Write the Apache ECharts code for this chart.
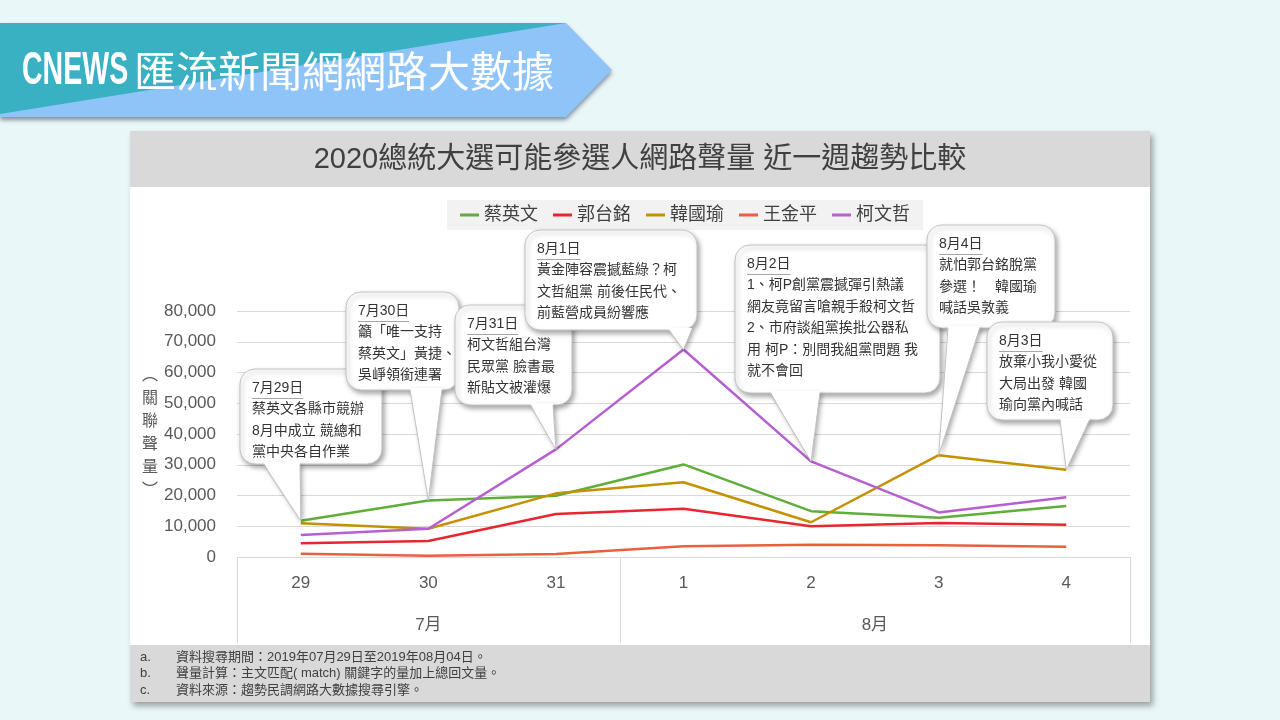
<!DOCTYPE html>
<html>
<head>
<meta charset="utf-8">
<script src="https://cdn.jsdelivr.net/npm/echarts@6/dist/echarts.min.js"></script>
<style>
html,body{margin:0;padding:0;background:#eaf7f8;}
#c{width:1280px;height:720px;}
</style>
</head>
<body>
<div id="c"></div>
<script>
// ---- data ----
const days = ['29','30','31','1','2','3','4'];
const months = ['7月','8月'];
const monthFirst = [0, 3];
const monthLast = [2, 6];
const names = ['蔡英文','郭台銘','韓國瑜','王金平','柯文哲'];
const tsai = [11800, 18400, 19900, 30100, 14900, 12800, 16600];
const kuo  = [4450, 5200, 14000, 15700, 10000, 11050, 10500];
const han  = [10950, 9200, 20700, 24300, 11300, 33100, 28400];
const wang = [1070, 420, 980, 3480, 4000, 3800, 3350];
const ko   = [7150, 9200, 35000, 67500, 31100, 14500, 19400];
const colors = ['#5fae3a','#e8262f','#c49100','#e8603c','#b65fd1'];
const yMin = 0, yMax = 80000, yStep = 10000;

const titleText = '2020總統大選可能參選人網路聲量 近一週趨勢比較';
const bannerLatin = 'CNEWS';
const bannerCJK = '匯流新聞網網路大數據';
const yName = '︵\n關\n聯\n聲\n量\n︶';
const notesTag = ['a.','b.','c.'];
const notes = [
  '資料搜尋期間：2019年07月29日至2019年08月04日。',
  '聲量計算：主文匹配( match) 關鍵字的量加上總回文量。',
  '資料來源：趨勢民調網路大數據搜尋引擎。'
];

// callouts: date, lines, which series / day index the pointer refers to
const calloutDates = ['7月29日','7月30日','7月31日','8月1日','8月2日','8月4日','8月3日'];
const calloutLines = [
  ['蔡英文各縣市競辦','8月中成立 競總和','黨中央各自作業'],
  ['籲「唯一支持','蔡英文」黃捷、','吳崢領銜連署'],
  ['柯文哲組台灣','民眾黨 臉書最','新貼文被灌爆'],
  ['黃金陣容震撼藍綠？柯','文哲組黨 前後任民代、','前藍營成員紛響應'],
  ['1、柯P創黨震撼彈引熱議','網友竟留言嗆親手殺柯文哲','2、市府談組黨挨批公器私','用 柯P：別問我組黨問題 我','就不會回'],
  ['就怕郭台銘脫黨','參選！　韓國瑜','喊話吳敦義'],
  ['放棄小我小愛從','大局出發 韓國','瑜向黨內喊話']
];
const calloutSeries = [0, 0, 4, 4, 4, 2, 2];
const calloutIndex  = [0, 1, 2, 3, 4, 5, 6];

// ---- layout (pixels) ----
const calloutBox = [
  [240,369,142,95],[346,292,113,98],[455,305,117,100],[525,230,172,100],
  [735,245,205,148],[927,225,128,103],[987,322,126,98]
];
const calloutTail = [[263,300],[410,442],[530,553],[668,692],[770,820],[948,980],[1060,1090]];

const FONT = "'Liberation Sans','Noto Sans CJK TC',sans-serif";
const seriesData = [tsai, kuo, han, wang, ko];

const chart = echarts.init(document.getElementById('c'), null, {renderer:'canvas'});

chart.setOption({
  animation: false,
  backgroundColor: '#eaf7f8',
  textStyle: {fontFamily: FONT},
  title: {
    text: titleText, left: 'center', top: 140,
    textStyle: {fontSize: 29, fontWeight: 'normal', color: '#404040', fontFamily: FONT}
  },
  legend: {
    data: names, left: 447, top: 200, padding: [6, 13],
    backgroundColor: '#f2f2f2', icon: 'rect', itemWidth: 19, itemHeight: 3, itemGap: 15,
    textStyle: {fontSize: 18, color: '#404040', fontFamily: FONT}
  },
  grid: {left: 237, right: 150, top: 311, bottom: 163, containLabel: false},
  xAxis: {
    type: 'category', data: days, boundaryGap: true,
    axisTick: {show: false},
    axisLine: {lineStyle: {color: '#d9d9d9', width: 1}},
    axisLabel: {fontSize: 17, color: '#595959', margin: 18}
  },
  yAxis: {
    type: 'value', min: yMin, max: yMax, interval: yStep,
    axisLine: {show: false}, axisTick: {show: false},
    splitLine: {lineStyle: {color: '#d9d9d9', width: 1}},
    axisLabel: {fontSize: 17, color: '#595959', margin: 21,
      formatter: v => v.toLocaleString('en-US')}
  },
  series: names.map((n, i) => ({
    name: n, type: 'line', data: seriesData[i], symbol: 'none',
    lineStyle: {color: colors[i], width: 2.5}, itemStyle: {color: colors[i]}
  }))
});

// ---- decorations ----
const g = [];
// banner
g.push({type:'polygon', z:-20, shape:{points:[[0,23],[566,23],[612,70],[566,117],[0,117]]},
  style:{fill:'#8ec4f8', shadowBlur:4, shadowOffsetY:3, shadowColor:'rgba(40,60,90,0.55)'}});
g.push({type:'polygon', z:-19, shape:{points:[[0,23],[566,23],[0,114]]}, style:{fill:'#3ab1c3'}});
g.push({type:'text', z:-18, x:22, y:71, scaleX:0.62,
  style:{text:bannerLatin, fontSize:46, fontWeight:'bold', fontFamily:"'Liberation Sans',sans-serif",
    fill:'#ffffff', verticalAlign:'middle', align:'left',
    shadowColor:'rgba(0,0,0,0.6)', shadowBlur:2, shadowOffsetX:2, shadowOffsetY:2}});
g.push({type:'text', z:-18, x:134, y:71,
  style:{text:bannerCJK, fontSize:42, fontFamily:"'Noto Sans CJK TC',sans-serif",
    fill:'#ffffff', verticalAlign:'middle', align:'left',
    shadowColor:'rgba(0,0,0,0.6)', shadowBlur:2, shadowOffsetX:2, shadowOffsetY:2}});
// card
g.push({type:'rect', z:-15, shape:{x:130,y:131,width:1020,height:571},
  style:{fill:'#ffffff', shadowBlur:6, shadowOffsetX:3, shadowOffsetY:4, shadowColor:'rgba(0,0,0,0.35)'}});
g.push({type:'rect', z:-14, shape:{x:130,y:131,width:1020,height:56}, style:{fill:'#d9d9d9'}});
g.push({type:'rect', z:-14, shape:{x:130,y:645,width:1020,height:57}, style:{fill:'#d9d9d9'}});
// notes
notes.forEach((t, i) => {
  g.push({type:'text', z:-13, x:140, y:657 + i*16.5,
    style:{text:notesTag[i], fontSize:13, fill:'#404040', fontFamily:FONT, verticalAlign:'middle'}});
  g.push({type:'text', z:-13, x:176, y:657 + i*16.5,
    style:{text:t, fontSize:13, fill:'#404040', fontFamily:FONT, verticalAlign:'middle'}});
});
// y axis name
g.push({type:'text', z:5, x:150, y:431,
  style:{text:yName, fontSize:16, lineHeight:23, fill:'#595959', fontFamily:"'Noto Sans CJK TC',sans-serif",
    align:'center', verticalAlign:'middle'}});

// month level of the category axis
const px = i => chart.convertToPixel({gridIndex:0}, [i, 0]);
const zeroY = px(0)[1];
const step = px(1)[0] - px(0)[0];
const boundary = i => px(i)[0] - step/2;  // left boundary of category i
const bounds = [boundary(0)];
monthLast.forEach(l => bounds.push(boundary(l) + step));
bounds.forEach(x => {
  g.push({type:'line', z:5, shape:{x1:Math.round(x)+0.5, y1:zeroY, x2:Math.round(x)+0.5, y2:643},
    style:{stroke:'#d9d9d9', lineWidth:1}});
});
months.forEach((m, k) => {
  const cx = (boundary(monthFirst[k]) + boundary(monthLast[k]) + step) / 2;
  g.push({type:'text', z:5, x:cx, y:625,
    style:{text:m, fontSize:17, fill:'#595959', fontFamily:FONT, align:'center', verticalAlign:'middle'}});
});

// callouts
const mctx = document.createElement('canvas').getContext('2d');
mctx.font = "14px 'Liberation Sans','Noto Sans CJK TC',sans-serif";
calloutDates.forEach((d, k) => {
  const [bx, by, bw, bh] = calloutBox[k];
  const bottom = by + bh;
  const [tl, tr] = calloutTail[k];
  const s = calloutSeries[k], idx = calloutIndex[k];
  const tip = chart.convertToPixel({gridIndex:0}, [idx, seriesData[s][idx]]);
  const z = 100 + k*10;
  const shadow = {shadowBlur:5, shadowOffsetX:2, shadowOffsetY:3, shadowColor:'rgba(0,0,0,0.35)'};
  g.push({type:'rect', z:z, shape:{x:bx, y:by, width:bw, height:bh, r:15},
    style:Object.assign({fill:'#ffffff', stroke:'#c4c4c4', lineWidth:1}, shadow)});
  g.push({type:'polygon', z:z+1, shape:{points:[[tl, bottom-2],[tr, bottom-2], tip]},
    style:Object.assign({fill:'#ffffff'}, shadow)});
  g.push({type:'polyline', z:z+2, shape:{points:[[tl, bottom], tip, [tr, bottom]]},
    style:{stroke:'#c4c4c4', lineWidth:1, fill:null}});
  const tx = bx + 12, ty = by + 19;
  g.push({type:'text', z:z+3, x:tx, y:ty,
    style:{text:d, fontSize:14, fill:'#333333', fontFamily:FONT, verticalAlign:'middle'}});
  const w = mctx.measureText(d).width;
  g.push({type:'line', z:z+3, shape:{x1:tx, y1:ty+10.5, x2:tx+w, y2:ty+10.5},
    style:{stroke:'#a6a6a6', lineWidth:1}});
  calloutLines[k].forEach((ln, j) => {
    g.push({type:'text', z:z+3, x:tx, y:ty + 21.5*(j+1),
      style:{text:ln, fontSize:14, fill:'#333333', fontFamily:FONT, verticalAlign:'middle'}});
  });
});

chart.setOption({graphic: {elements: g}});
</script>
</body>
</html>
